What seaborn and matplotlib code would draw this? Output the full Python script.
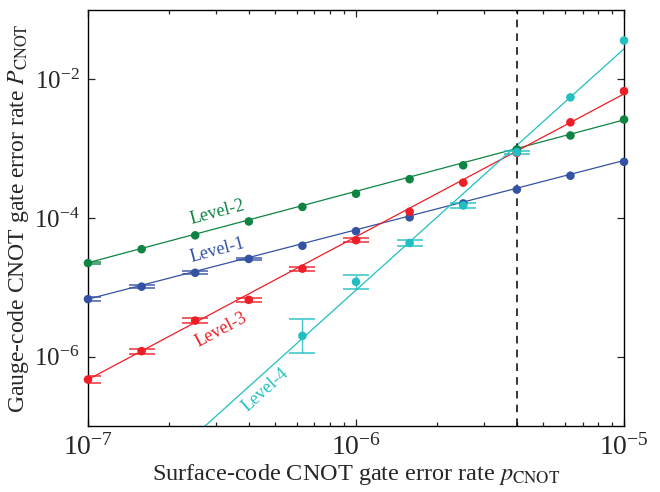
import numpy as np
import pandas as pd
import matplotlib
matplotlib.use("Agg")
import matplotlib.pyplot as plt
import seaborn as sns

# surface-code CNOT error rate, 0.2-decade steps
p_cnot = [1e-7, 1.585e-7, 2.512e-7, 3.981e-7, 6.31e-7, 1e-6,
          1.585e-6, 2.512e-6, 3.981e-6, 6.31e-6, 1e-5]

# log10 of gauge-code CNOT error rate
level1_log = [-5.17, -4.99, -4.79, -4.59, -4.40, -4.19, -3.99, -3.79, -3.59, -3.39, -3.19]
level2_log = [-4.65, -4.45, -4.25, -4.05, -3.84, -3.65, -3.44, -3.24, -3.01, -2.81, -2.58]
level3_log = [-6.33, -5.92, -5.48, -5.18, -4.73, -4.32, -3.91, -3.49, -3.06, -2.62, -2.17]
level4_log = [np.nan, np.nan, np.nan, np.nan, -5.70, -4.92, -4.36, -3.82, -3.05, -2.26, -1.44]

# error bar half widths in decades (nan = too small to see)
nan = np.nan
level1_err = [0.03, 0.02, 0.02, 0.015, nan, nan, nan, nan, nan, nan, nan]
level2_err = [0.02, nan, nan, nan, nan, nan, nan, nan, nan, nan, nan]
level3_err = [0.05, 0.035, 0.035, 0.03, 0.03, 0.025, nan, nan, nan, nan, nan]
level4_err = [nan, nan, nan, nan, 0.25, 0.10, 0.05, 0.03, 0.02, nan, nan]

# power-law fits: log10 P = slope * (log10 p + 7) + offset
fit_slope = {"Level-1": 1.0, "Level-2": 1.03, "Level-3": 2.06, "Level-4": 3.48}
fit_offset = {"Level-1": -5.17, "Level-2": -4.645, "Level-3": -6.33, "Level-4": -8.52}

threshold = 3.981e-6

colors = {"Level-1": "#3452a4", "Level-2": "#0e8442",
          "Level-3": "#ee1d26", "Level-4": "#22bfc2"}

sns.set_style("ticks")
plt.rcParams['font.family'] = ['Liberation Serif', 'DejaVu Serif']
plt.rcParams['mathtext.fontset'] = 'stix'

fig = plt.figure(figsize=(6.6, 4.92), dpi=100)
ax = fig.add_axes([0.1333, 0.1341, 0.8122, 0.8456])

series = {"Level-1": (level1_log, level1_err), "Level-2": (level2_log, level2_err),
          "Level-3": (level3_log, level3_err), "Level-4": (level4_log, level4_err)}

xfit = np.logspace(-7, -5, 50)
rows = []
for name in series:
    yfit = 10 ** (fit_slope[name] * (np.log10(xfit) + 7) + fit_offset[name])
    rows += [{"p": a, "P": b, "level": name} for a, b in zip(xfit, yfit)]
fits = pd.DataFrame(rows)
sns.lineplot(data=fits, x="p", y="P", hue="level", palette=colors, lw=0.9,
             legend=False, ax=ax)

for name, (ylog, err) in series.items():
    ylog = np.array(ylog)
    err = np.array(err)
    y = 10 ** ylog
    ok = ~np.isnan(err) & ~np.isnan(ylog)
    xs = np.array(p_cnot)[ok]
    yerr = [y[ok] - 10 ** (ylog[ok] - err[ok]), 10 ** (ylog[ok] + err[ok]) - y[ok]]
    ax.errorbar(xs, y[ok], yerr=yerr, fmt='none', ecolor=colors[name],
                elinewidth=1.0, capsize=9.5, capthick=1.2, alpha=0.85, zorder=3)
    pts = pd.DataFrame({"p": p_cnot, "P": y}).dropna()
    sns.scatterplot(data=pts, x="p", y="P", color=colors[name], s=38,
                    edgecolor='none', ax=ax, zorder=4, clip_on=False)

ax.axvline(threshold, color='black', ls=(0, (5, 4)), lw=1.1)

ax.set_xscale('log')
ax.set_yscale('log')
ax.set_xlim(1e-7, 1e-5)
ax.set_ylim(1e-7, 1e-1)
ax.set_yticks([1e-6, 1e-4, 1e-2])
ax.yaxis.set_minor_locator(matplotlib.ticker.NullLocator())

ax.tick_params(which='both', direction='in', top=True, right=True, width=0.9)
ax.tick_params(axis='x', labelsize=20, pad=6)
ax.tick_params(axis='y', labelsize=18, pad=6)
ax.tick_params(which='major', length=5)
ax.tick_params(which='minor', length=3)
for s in ax.spines.values():
    s.set_linewidth(1.0)
    s.set_color('black')

ax.set_xlabel(r"Surface-code CNOT gate error rate $p_{\mathrm{CNOT}}$",
              fontsize=17.5, labelpad=1)
ax.set_ylabel(r"Gauge-code CNOT gate error rate $P_{\mathrm{CNOT}}$",
              fontsize=17, labelpad=2)

labels = [("Level-2", 3.05e-7, 1.2e-4, 15),
          ("Level-1", 3.05e-7, 3.4e-5, 15),
          ("Level-3", 3.13e-7, 2.4e-6, 28),
          ("Level-4", 4.6e-7, 3.3e-7, 42)]
for name, lx, ly, rot in labels:
    ax.text(lx, ly, name, color=colors[name], fontsize=13, rotation=rot,
            ha='center', va='center', rotation_mode='anchor')

fig.savefig("out.png", dpi=100)
